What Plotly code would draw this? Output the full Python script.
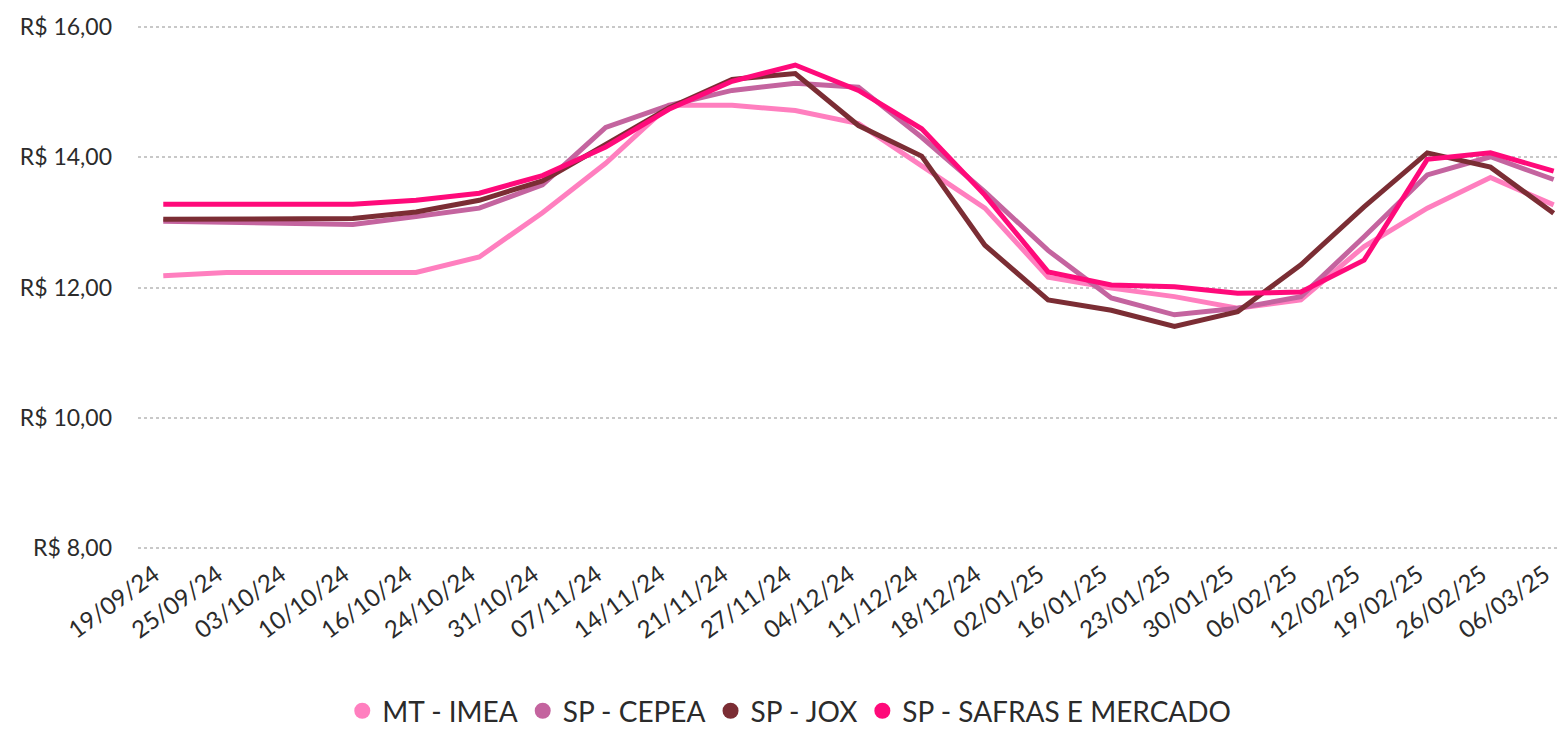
import plotly.graph_objects as go

dates = ["19/09/24", "25/09/24", "03/10/24", "10/10/24", "16/10/24", "24/10/24", "31/10/24",
         "07/11/24", "14/11/24", "21/11/24", "27/11/24", "04/12/24", "11/12/24", "18/12/24",
         "02/01/25", "16/01/25", "23/01/25", "30/01/25", "06/02/25", "12/02/25", "19/02/25",
         "26/02/25", "06/03/25"]

mt_imea = [12.18, 12.23, 12.23, 12.23, 12.23, 12.47, 13.15, 13.91, 14.80, 14.80, 14.72, 14.52,
           13.88, 13.22, 12.16, 11.99, 11.86, 11.68, 11.81, 12.63, 13.22, 13.69, 13.27]
sp_cepea = [13.02, 13.00, 12.99, 12.97, 13.09, 13.22, 13.58, 14.46, 14.80, 15.03, 15.14, 15.08,
            14.31, 13.47, 12.57, 11.84, 11.58, 11.68, 11.86, 12.78, 13.73, 14.01, 13.66]
sp_jox = [13.05, 13.05, 13.05, 13.06, 13.16, 13.34, 13.64, 14.19, 14.76, 15.20, 15.29, 14.49,
          14.02, 12.65, 11.81, 11.65, 11.40, 11.63, 12.35, 13.24, 14.07, 13.85, 13.14]
sp_safras = [13.28, 13.28, 13.28, 13.28, 13.34, 13.45, 13.72, 14.16, 14.74, 15.17, 15.42, 15.03,
             14.44, 13.42, 12.24, 12.04, 12.01, 11.91, 11.93, 12.42, 13.97, 14.07, 13.79]

y_ticks = [8, 10, 12, 14, 16]
y_tick_text = ["R$ 8,00", "R$ 10,00", "R$ 12,00", "R$ 14,00", "R$ 16,00"]

series = [
    ("MT - IMEA", mt_imea, "#FF7FBF"),
    ("SP - CEPEA", sp_cepea, "#C4649F"),
    ("SP - JOX", sp_jox, "#7B2D34"),
    ("SP - SAFRAS E MERCADO", sp_safras, "#FF0A7A"),
]

fig = go.Figure()
for name, vals, color in series:
    fig.add_trace(go.Scatter(x=dates, y=vals, mode="lines", name=name,
                             line=dict(color=color, width=5), showlegend=False))
for name, vals, color in series:
    fig.add_trace(go.Scatter(x=[None], y=[None], mode="markers", name=name,
                             marker=dict(color=color, size=19, symbol="circle")))

font = "Lato, 'Open Sans', sans-serif"
fig.update_layout(
    width=1567, height=730,
    paper_bgcolor="white", plot_bgcolor="white",
    margin=dict(l=138, r=7, t=26, b=181, autoexpand=False),
    font=dict(family=font, size=24, color="#2B2B2B"),
    xaxis=dict(type="category", range=[-0.4, 22.1], showgrid=False, showline=False,
               zeroline=False, tickangle=-36, tickfont=dict(size=24, color="#2B2B2B"),
               ticks="", automargin=False, ticklabelshift=-9, ticklabelstandoff=6),
    yaxis=dict(range=[7.98, 16.02], tickvals=y_ticks, ticktext=y_tick_text,
               showgrid=True, gridcolor="#C8C8C8", griddash="dot",
               gridwidth=1.5, zeroline=False, showline=False, ticks="",
               automargin=False,
               tickfont=dict(size=23, color="#2B2B2B"), ticklabelstandoff=25),
    legend=dict(orientation="h", x=0.458, xanchor="center",
                yref="container", y=0.026, yanchor="middle",
                font=dict(size=28, color="#2B2B2B"), itemwidth=30, tracegroupgap=0),
)
fig.write_html("out.html", config={"displayModeBar": False},
               post_script="document.body.style.margin='0';document.body.style.overflow='hidden';")
